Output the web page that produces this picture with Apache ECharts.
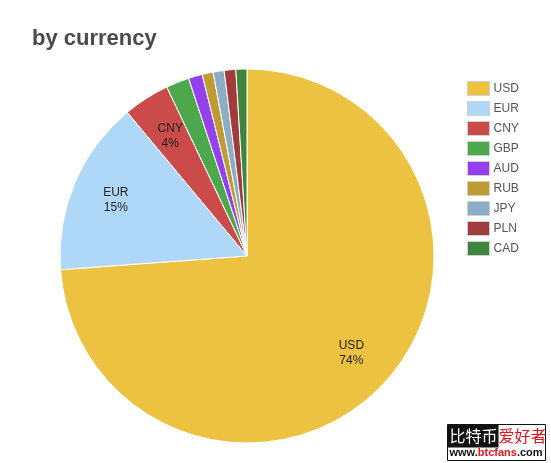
<!DOCTYPE html>
<html>
<head>
<meta charset="utf-8">
<script src="https://cdn.jsdelivr.net/npm/echarts@6/dist/echarts.min.js"></script>
<style>
  html, body { margin: 0; padding: 0; background: #fff; }
  #chart { width: 551px; height: 463px; }
</style>
</head>
<body>
<div id="chart"></div>
<script>
// share of volume by currency, in percent
const currencies = ['USD', 'EUR', 'CNY', 'GBP', 'AUD', 'RUB', 'JPY', 'PLN', 'CAD'];
const shares = [73.8, 15.1, 4.0, 2.0, 1.2, 0.95, 0.95, 1.0, 0.95];
const palette = ['#edc240', '#afd8f8', '#cb4b4b', '#4da74d', '#9440ed', '#be9b33', '#8cadc6', '#a23c3c', '#3e863e'];

const pieData = currencies.map((name, i) => ({ name: name, value: shares[i] }));

const chart = echarts.init(document.getElementById('chart'));
const font = '"Liberation Sans", Arial, sans-serif';

chart.setOption({
  animation: false,
  color: palette,
  title: {
    text: 'by currency',
    left: 27,
    top: 23,
    textStyle: { fontFamily: font, fontSize: 22, fontWeight: 'bold', color: '#4a4a4a' }
  },
  legend: {
    orient: 'vertical',
    left: 467,
    top: 81,
    padding: 0,
    itemWidth: 22,
    itemHeight: 14,
    itemGap: 5,
    icon: 'rect',
    itemStyle: { borderColor: '#d0d0d0', borderWidth: 1 },
    textStyle: { fontFamily: font, fontSize: 12, lineHeight: 14, height: 14, color: '#545454', padding: [0, 0, 0, -1] },
    data: currencies
  },
  series: [
    {
      type: 'pie',
      center: [247, 256],
      radius: 187,
      startAngle: 90,
      clockwise: true,
      itemStyle: { borderColor: '#fff', borderWidth: 1 },
      label: { show: false },
      labelLine: { show: false },
      emphasis: { disabled: true },
      data: pieData
    },
    {
      // transparent ring only used to place labels at ~3/4 radius
      type: 'pie',
      center: [247, 256],
      radius: [92, 187],
      startAngle: 90,
      clockwise: true,
      silent: true,
      itemStyle: { color: 'transparent', borderWidth: 0 },
      label: {
        show: true,
        position: 'inside',
        fontFamily: font,
        fontSize: 12,
        lineHeight: 15,
        color: '#222',
        formatter: p => p.percent >= 3 ? p.name + '\n' + Math.round(p.percent) + '%' : ''
      },
      labelLine: { show: false },
      emphasis: { disabled: true },
      data: pieData
    }
  ],
  graphic: [
    {
      type: 'group',
      left: 447,
      top: 424,
      children: [
        { type: 'rect', shape: { x: 0, y: 0, width: 98, height: 36 }, style: { fill: '#fff', stroke: '#111', lineWidth: 1 } },
        { type: 'rect', shape: { x: 0, y: 0, width: 51, height: 23 }, style: { fill: '#111' } },
        { type: 'text', x: 2, y: 3, style: { text: '比特币', fill: '#fff', font: '16px "Noto Sans CJK SC"' } },
        { type: 'text', x: 51, y: 3, style: { text: '爱好者', fill: '#e8141b', font: '16px "Noto Sans CJK SC"' } },
        {
          type: 'text', x: 2, y: 23,
          style: {
            text: '{a|www.}{b|btcfans}{a|.com}',
            rich: {
              a: { fill: '#111', font: 'bold 11px ' + font },
              b: { fill: '#e8141b', font: 'bold 11px ' + font }
            }
          }
        }
      ]
    }
  ]
});
</script>
</body>
</html>
